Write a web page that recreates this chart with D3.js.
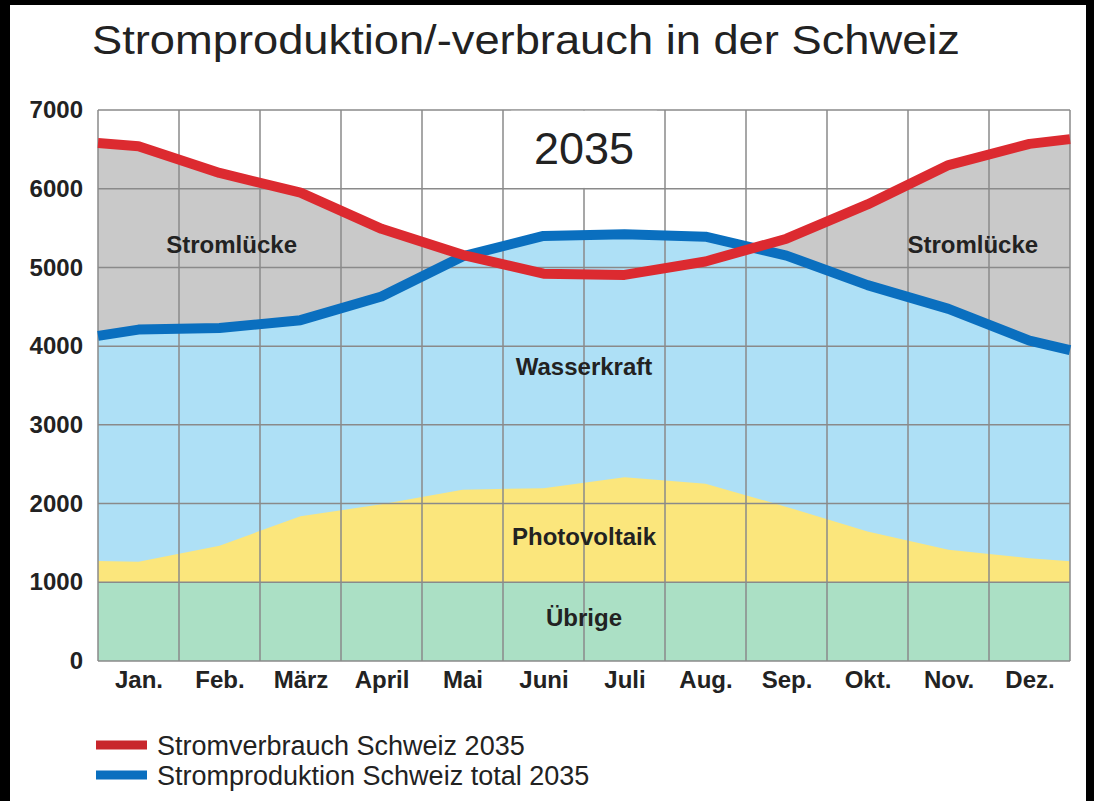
<!doctype html>
<html>
<head>
<meta charset="utf-8">
<title>Stromproduktion/-verbrauch in der Schweiz</title>
<script src="https://cdn.jsdelivr.net/npm/d3@7"></script>
<style>
  html, body { margin: 0; padding: 0; background: #000; }
  svg { display: block; }
  text { font-family: "Liberation Sans", Arial, sans-serif; fill: #222; }
</style>
</head>
<body>
<div id="chart"></div>
<script>
// month labels on the x axis
const months = ["Jan.", "Feb.", "März", "April", "Mai", "Juni", "Juli", "Aug.", "Sep.", "Okt.", "Nov.", "Dez."];
// x positions in months: start of year, mid of each month, end of year
const xPos = [0, 0.5, 1.5, 2.5, 3.5, 4.5, 5.5, 6.5, 7.5, 8.5, 9.5, 10.5, 11.5, 12];
// GWh per month
const verbrauch    = [6580, 6540, 6200, 5950, 5490, 5160, 4920, 4905, 5076, 5365, 5800, 6300, 6570, 6630];
const produktion   = [4130, 4210, 4230, 4330, 4630, 5140, 5400, 5420, 5390, 5150, 4775, 4473, 4070, 3950];
const uebrige      = [1000, 1000, 1000, 1000, 1000, 1000, 1000, 1000, 1000, 1000, 1000, 1000, 1000, 1000];
const photovoltaik = [270, 262, 465, 840, 990, 1177, 1195, 1335, 1253, 958, 645, 414, 306, 267];
const yTicks = [0, 1000, 2000, 3000, 4000, 5000, 6000, 7000];

const W = 1094, H = 801;
const margin = {top: 110, right: 24, bottom: 140, left: 98};
const plotW = 1070 - margin.left;
const plotH = 661 - margin.top;

const svg = d3.select("#chart").append("svg")
    .attr("width", W)
    .attr("height", H);

// white page inside the black frame of the scan
svg.append("rect").attr("x", 10).attr("y", 5).attr("width", 1076).attr("height", H - 5).attr("fill", "#fff");

svg.append("text")
    .attr("x", 92).attr("y", 54)
    .attr("textLength", 868).attr("lengthAdjust", "spacingAndGlyphs")
    .style("font-size", "40px")
    .text("Stromproduktion/-verbrauch in der Schweiz");

const g = svg.append("g").attr("transform", `translate(${margin.left},${margin.top})`);

const x = d3.scaleLinear().domain([0, 12]).range([0, plotW]);
const y = d3.scaleLinear().domain([0, 7000]).range([plotH, 0]);

const rows = xPos.map((p, i) => ({
  x: p,
  verbrauch: verbrauch[i],
  produktion: produktion[i],
  uebrige: uebrige[i],
  pv: uebrige[i] + photovoltaik[i]
}));

function area(top) {
  return d3.area().x(d => x(d.x)).y0(y(0)).y1(d => y(top(d)))(rows);
}

// areas, back to front
g.append("path").attr("d", area(d => d.verbrauch)).attr("fill", "#c9c9c9");
g.append("path").attr("d", area(d => d.produktion)).attr("fill", "#aee0f6");
g.append("path").attr("d", area(d => d.pv)).attr("fill", "#fbe67c");
g.append("path").attr("d", area(d => d.uebrige)).attr("fill", "#abe0c5");

// grid
const grid = g.append("g").attr("stroke", "#8a8a8a").attr("stroke-width", 1.5);
grid.selectAll(".h").data(yTicks).join("line")
    .attr("x1", 0).attr("x2", plotW)
    .attr("y1", d => y(d)).attr("y2", d => y(d));
grid.selectAll(".v").data(d3.range(0, 13)).join("line")
    .attr("x1", d => x(d)).attr("x2", d => x(d))
    .attr("y1", 0).attr("y2", plotH);

// year label with its white box
g.append("rect")
    .attr("x", x(5.1)).attr("y", y(6990))
    .attr("width", x(6.9) - x(5.1)).attr("height", y(6010) - y(6990))
    .attr("fill", "#fff");
g.append("text")
    .attr("x", x(6)).attr("y", y(6310))
    .attr("text-anchor", "middle")
    .style("font-size", "45px")
    .text("2035");

// lines
const line = key => d3.line().x(d => x(d.x)).y(d => y(d[key]))(rows);
g.append("path").attr("d", line("produktion"))
    .attr("fill", "none").attr("stroke", "#0a6fbf").attr("stroke-width", 10).attr("stroke-linejoin", "round");
g.append("path").attr("d", line("verbrauch"))
    .attr("fill", "none").attr("stroke", "#dc2a30").attr("stroke-width", 10).attr("stroke-linejoin", "round");

// area labels
const labels = [
  {t: "Stromlücke", x: 1.65, v: 5180},
  {t: "Stromlücke", x: 10.8, v: 5180},
  {t: "Wasserkraft", x: 6, v: 3635},
  {t: "Photovoltaik", x: 6, v: 1475},
  {t: "Übrige", x: 6, v: 440}
];
g.selectAll(".lbl").data(labels).join("text")
    .attr("x", d => x(d.x)).attr("y", d => y(d.v))
    .attr("text-anchor", "middle")
    .style("font-size", "24px").style("font-weight", "bold")
    .text(d => d.t);

// axes
const yAxis = g.append("g")
    .call(d3.axisLeft(y).tickValues(yTicks).tickFormat(d3.format("d")).tickSize(0).tickPadding(15));
yAxis.select(".domain").remove();
yAxis.selectAll("text")
    .style("font-size", "24px").style("font-weight", "bold")
    .attr("fill", "#222").attr("font-family", null);

const xAxis = g.append("g").attr("transform", `translate(0,${plotH})`)
    .call(d3.axisBottom(x).tickValues(d3.range(12).map(i => i + 0.5)).tickFormat((d, i) => months[i]).tickSize(0).tickPadding(10));
xAxis.select(".domain").remove();
xAxis.selectAll("text")
    .style("font-size", "24px").style("font-weight", "bold")
    .attr("fill", "#222").attr("font-family", null);

// legend
const legend = [
  {t: "Stromverbrauch Schweiz 2035", c: "#c8262c", y: 745},
  {t: "Stromproduktion Schweiz total 2035", c: "#0a6fbf", y: 775}
];
const lg = svg.append("g");
lg.selectAll("line").data(legend).join("line")
    .attr("x1", 96).attr("x2", 147)
    .attr("y1", d => d.y).attr("y2", d => d.y)
    .attr("stroke", d => d.c).attr("stroke-width", 9);
lg.selectAll("text").data(legend).join("text")
    .attr("x", 157).attr("y", d => d.y + 10)
    .style("font-size", "27px")
    .text(d => d.t);
</script>
</body>
</html>
